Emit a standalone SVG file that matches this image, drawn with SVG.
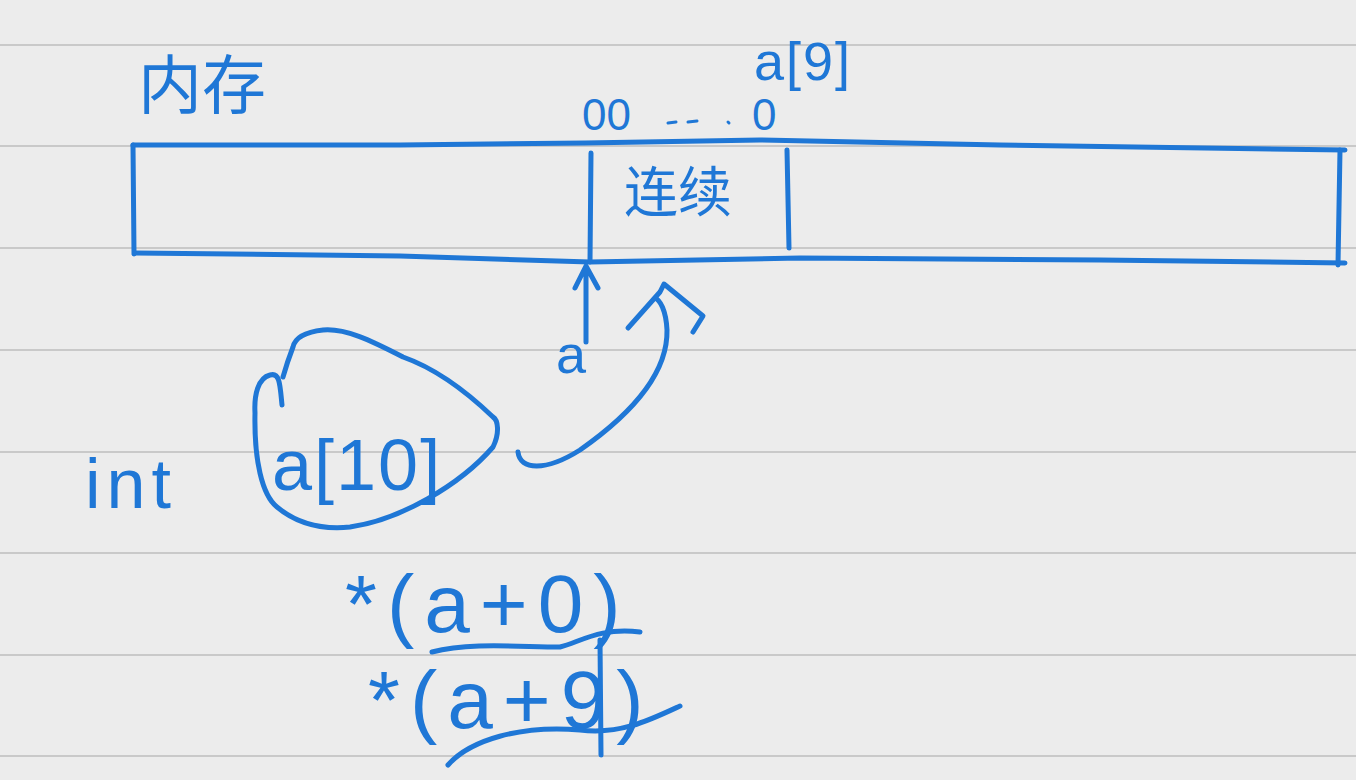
<svg xmlns="http://www.w3.org/2000/svg" width="1356" height="780" viewBox="0 0 1356 780">
<style>
.rule{stroke:#c9c9c9;stroke-width:2}
.ink{fill:none;stroke:#1f77d6;stroke-width:5;stroke-linecap:round;stroke-linejoin:round}
.thin{fill:none;stroke:#1f77d6;stroke-width:3;stroke-linecap:round;stroke-linejoin:round}
.t{fill:#1f77d6;font-family:"Liberation Sans","Noto Sans CJK SC",sans-serif}
.c{fill:#1f77d6;font-family:"Noto Sans CJK SC",sans-serif}
</style>
<rect width="1356" height="780" fill="#ececec"/>
<g id="rules">
<line class="rule" x1="0" y1="45" x2="1356" y2="45"/>
<line class="rule" x1="0" y1="146" x2="1356" y2="146"/>
<line class="rule" x1="0" y1="248" x2="1356" y2="248"/>
<line class="rule" x1="0" y1="350" x2="1356" y2="350"/>
<line class="rule" x1="0" y1="452" x2="1356" y2="452"/>
<line class="rule" x1="0" y1="553" x2="1356" y2="553"/>
<line class="rule" x1="0" y1="655" x2="1356" y2="655"/>
<line class="rule" x1="0" y1="756" x2="1356" y2="756"/>
</g>
<g id="memory">
<path class="ink" d="M133 145 L400 145 L585 143 L760 140 L1000 145 L1345 150"/>
<path class="ink" d="M135 253 L400 256 L590 262 L800 258 L1100 260 L1345 263"/>
<path class="ink" d="M133 145 L134 254"/>
<path class="ink" d="M1340 150 L1338 265"/>
<path class="ink" d="M591 153 L590 262"/>
<path class="ink" d="M787 150 L789 248"/>
<text class="c" x="138" y="108" font-size="64">内存</text>
<text class="c" x="624" y="212" font-size="54">连续</text>
</g>
<g id="labels-top">
<text class="t" x="754" y="80" font-size="54" letter-spacing="2">a[9]</text>
<text class="t" x="582" y="130" font-size="44">00</text>
<path class="thin" d="M668 123 L676 122 M688 122 L697 121 M728 122 L729 123"/>
<text class="t" x="752" y="130" font-size="44">0</text>
</g>
<g id="pointer-a">
<text class="t" x="556" y="373" font-size="54">a</text>
</g>
<g id="array-decl">
<text class="t" x="85" y="508" font-size="70" letter-spacing="6">int</text>
<path class="ink" d="M282 405 C280 385 280 372 270 375 C258 378 254 395 255 413 C254 460 262 495 277 507 C295 522 320 530 350 527 C400 520 460 485 493 447 C500 433 498 420 493 417 C470 395 440 370 403 357 C370 340 345 328 323 330 C305 332 295 338 293 347 C288 360 285 370 283 377"/>
<text class="t" x="272" y="490" font-size="72" letter-spacing="2">a[10]</text>
</g>
<g id="deref">
<text class="t" x="345" y="632" font-size="82" letter-spacing="10">*(a+0)</text>
<text class="t" x="368" y="728" font-size="82" letter-spacing="10">*(a+9)</text>
<path class="ink" d="M432 652 C470 642 520 647 560 647 C580 642 600 627 640 632"/>
<path class="ink" d="M448 765 C470 740 520 725 580 730 C620 735 650 720 680 706"/>
<path class="ink" d="M600 640 L601 755"/>
</g>
<g id="connectors">
<path class="ink" d="M586 342 L586 266 M575 288 L586 266 L598 288"/>
<path class="ink" d="M518 452 C520 470 545 472 580 450 C630 415 668 375 667 330 C666 310 660 300 655 298"/>
<path class="ink" d="M628 328 L660 292 L664 284 L703 316 L693 332"/>
</g>
</svg>
